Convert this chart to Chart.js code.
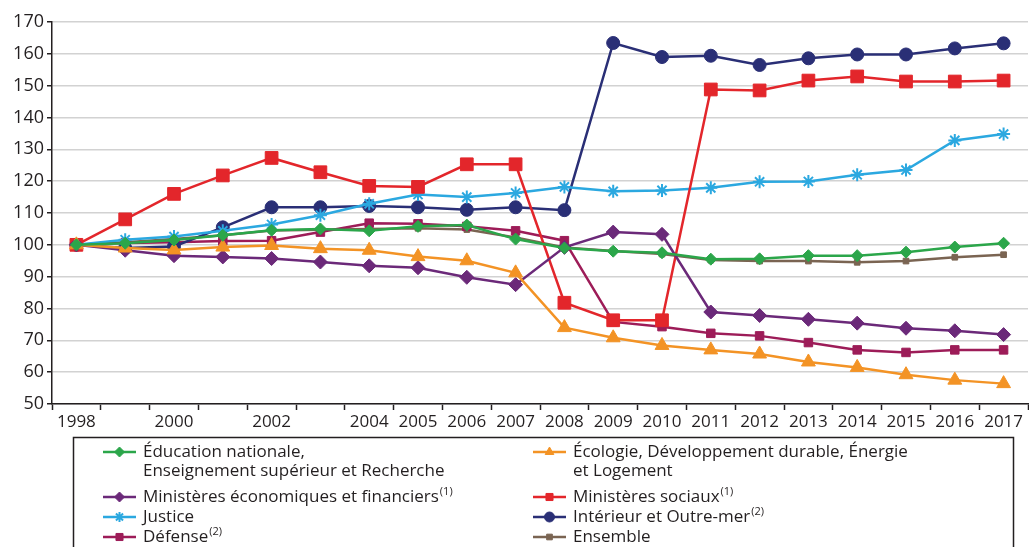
<!DOCTYPE html>
<html lang="fr">
<head>
<meta charset="utf-8">
<title>Indices</title>
<script src="https://cdn.jsdelivr.net/npm/chart.js@4/dist/chart.umd.min.js"></script>
<style>
  html, body { margin: 0; padding: 0; background: #fff; overflow: hidden; }
  #wrap { width: 1029px; height: 547px; position: relative; overflow: hidden; }
  canvas { display: block; }
</style>
</head>
<body>
<div id="wrap"><canvas id="indices"></canvas></div>
<script>
// Years on the axis (1999, 2001, 2003 have no label)
const years = ['1998', '1999', '2000', '2001', '2002', '2003', '2004', '2005', '2006', '2007',
    '2008', '2009', '2010', '2011', '2012', '2013', '2014', '2015', '2016', '2017'];
const yearLabels = ['1998', '', '2000', '', '2002', '', '2004', '2005', '2006', '2007',
    '2008', '2009', '2010', '2011', '2012', '2013', '2014', '2015', '2016', '2017'];

// Series (base 100 in 1998)
const education = [100, 100.5, 101.5, 103, 104.6, 105, 104.4, 105.8, 106.2, 101.8,
    99, 98, 97.5, 95.5, 95.6, 96.6, 96.6, 97.7, 99.3, 100.5];
const ecologie = [100, 99, 98.4, 99.3, 99.8, 98.8, 98.3, 96.3, 95, 91.2,
    74, 70.8, 68.4, 67, 65.7, 63.2, 61.5, 59.2, 57.5, 56.4];
const minEco = [100, 98.3, 96.6, 96.2, 95.7, 94.6, 93.4, 92.8, 89.8, 87.5,
    99.2, 104, 103.3, 78.9, 77.8, 76.6, 75.4, 73.8, 73, 71.8];
const minSociaux = [100, 108, 116, 121.8, 127.3, 122.8, 118.5, 118.2, 125.3, 125.3,
    81.8, 76.3, 76.3, 148.8, 148.5, 151.6, 152.9, 151.3, 151.3, 151.6];
const justice = [100, 101.6, 102.6, 104.4, 106.4, 109.3, 112.9, 115.8, 115, 116.3,
    118.2, 116.8, 117.1, 117.9, 119.8, 119.9, 122, 123.5, 132.8, 134.8];
const interieur = [100, 99, 99.5, 105.5, 111.8, 111.8, 112.2, 111.8, 111, 111.8,
    110.9, 163.4, 159, 159.4, 156.5, 158.6, 159.8, 159.8, 161.7, 163.3];
const defense = [100, 100.6, 100.8, 101.2, 101.3, 104, 106.8, 106.6, 105.8, 104.4,
    101.3, 75.8, 74.3, 72.2, 71.4, 69.3, 67, 66.2, 67, 67];
const ensemble = [100, 100.8, 101.8, 103, 104.5, 104.7, 105, 105.2, 104.8, 102.3,
    99.2, 98.1, 97.1, 95.2, 94.9, 94.9, 94.5, 94.9, 96.1, 96.9];

// Legend texts (lines) and footnote calls
const names = [
    ['Éducation nationale,', 'Enseignement supérieur et Recherche'],
    ['Écologie, Développement durable, Énergie', 'et Logement'],
    ['Ministères économiques et financiers'],
    ['Ministères sociaux'],
    ['Justice'],
    ['Intérieur et Outre-mer'],
    ['Défense'],
    ['Ensemble'],
];
const notes = ['', '', '(1)', '(1)', '', '(2)', '(2)', ''];

const FONT = '"Open Sans", "Noto Sans", sans-serif';
const TEXT = '#231f20';

function serie(i, data, color, style, radius) {
    return {
        label: names[i].join(' '),
        data: data,
        borderColor: color,
        backgroundColor: color,
        borderWidth: 2.5,
        pointStyle: style,
        pointRadius: radius,
        pointHoverRadius: radius,
        pointBorderWidth: style === 'star' ? 2 : 1,
        tension: 0,
        fill: false,
    };
}

const datasets = [
    serie(0, education, '#2ba64a', 'rectRot', 6),
    serie(1, ecologie, '#f39325', 'triangle', 8),
    serie(2, minEco, '#6b2979', 'rectRot', 7),
    serie(3, minSociaux, '#e3262b', 'rect', 9),
    serie(4, justice, '#2ba8e0', 'star', 6.5),
    serie(5, interieur, '#2a2f76', 'circle', 6.5),
    serie(6, defense, '#9d1c58', 'rect', 6),
    serie(7, ensemble, '#7a6452', 'rect', 4),
];

// Boxed two-column legend under the chart
const boxLegend = {
    id: 'boxLegend',
    afterDraw(chart) {
        const ctx = chart.ctx;
        const cols = [103, 533];
        const rows = [452, 497, 517, 537];
        ctx.save();
        ctx.strokeStyle = '#231f20';
        ctx.lineWidth = 1.5;
        ctx.strokeRect(73.5, 437.5, 940, 130);

        chart.data.datasets.forEach((ds, i) => {
            const x = cols[i % 2];
            const y = rows[Math.floor(i / 2)];
            ctx.strokeStyle = ds.borderColor;
            ctx.fillStyle = ds.backgroundColor;
            ctx.lineWidth = 2.5;
            ctx.beginPath();
            ctx.moveTo(x, y);
            ctx.lineTo(x + 33, y);
            ctx.stroke();
            ctx.lineWidth = ds.pointBorderWidth;
            Chart.helpers.drawPoint(ctx, {
                pointStyle: ds.pointStyle,
                radius: Math.min(ds.pointRadius, 5),
                rotation: 0,
                borderWidth: ds.pointBorderWidth,
            }, x + 16.5, y);

            ctx.fillStyle = TEXT;
            ctx.textBaseline = 'middle';
            ctx.textAlign = 'left';
            names[i].forEach((line, k) => {
                ctx.font = '17px ' + FONT;
                ctx.fillText(line, x + 40, y + k * 19);
                if (k === names[i].length - 1 && notes[i]) {
                    const w = ctx.measureText(line).width;
                    ctx.font = '11px ' + FONT;
                    ctx.fillText(notes[i], x + 40 + w + 1, y + k * 19 - 5);
                }
            });
        });
        ctx.restore();
    },
};

const ctx = document.getElementById('indices').getContext('2d');
const chart = new Chart(ctx, {
    type: 'line',
    data: {
        labels: years,
        datasets: datasets,
    },
    options: {
        responsive: true,
        maintainAspectRatio: false,
        animation: false,
        layout: {
            autoPadding: false,
            padding: { top: 22, right: 1, bottom: 113, left: 0 },
        },
        plugins: {
            legend: { display: false },
            tooltip: { enabled: false },
        },
        scales: {
            x: {
                offset: true,
                afterFit(scale) {
                    scale.height = 30;
                    scale.paddingLeft = 0;
                    scale.paddingRight = 0;
                },
                border: { color: '#231f20', width: 1.5 },
                grid: {
                    offset: true,
                    drawOnChartArea: false,
                    drawTicks: true,
                    tickLength: 6,
                    tickColor: '#231f20',
                    tickWidth: 1.5,
                },
                ticks: {
                    autoSkip: false,
                    maxRotation: 0,
                    padding: 2,
                    color: TEXT,
                    font: { family: FONT, size: 17 },
                    callback: (v, i) => yearLabels[i],
                },
            },
            y: {
                min: 50,
                max: 170,
                afterFit(scale) { scale.width = 52; },
                border: { color: '#231f20', width: 1.5 },
                grid: {
                    color: '#d2d2d2',
                    lineWidth: 1.5,
                    tickColor: '#231f20',
                    tickLength: 5,
                    tickWidth: 1.5,
                },
                ticks: {
                    stepSize: 10,
                    padding: 3,
                    color: TEXT,
                    font: { family: FONT, size: 18 },
                },
            },
        },
    },
    plugins: [boxLegend],
});
</script>
</body>
</html>
